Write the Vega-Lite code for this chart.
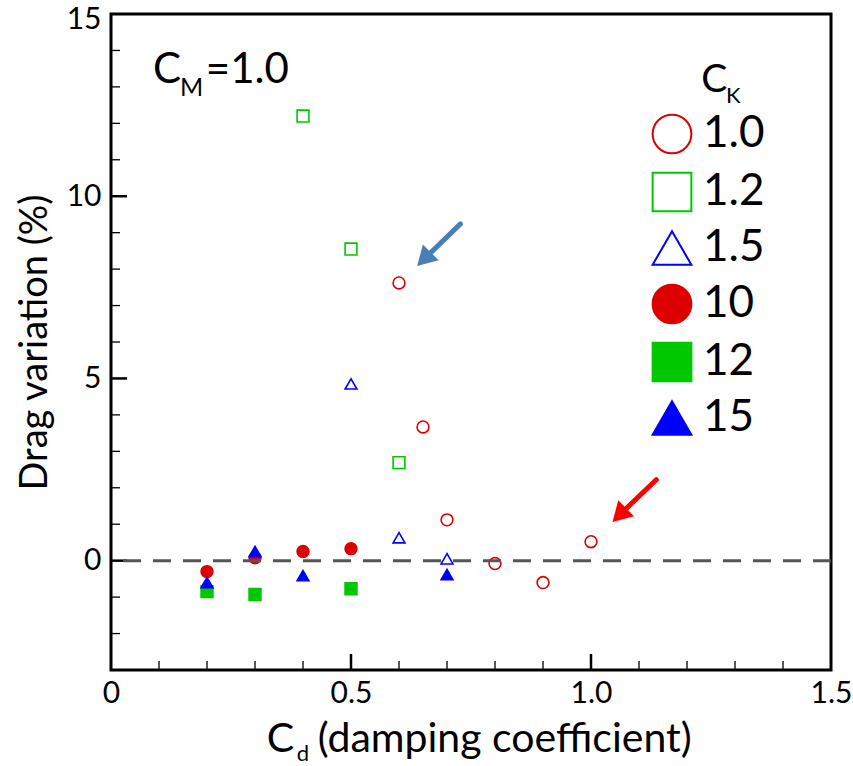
{
  "$schema": "https://vega.github.io/schema/vega-lite/v6.json",
  "width": 720,
  "height": 656,
  "autosize": {"type": "none"},
  "padding": {"left": 111, "top": 14, "right": 22, "bottom": 96},
  "background": "white",
  "config": {
    "font": "Lato",
    "view": {"stroke": "black", "strokeWidth": 3},
    "axis": {"domain": false, "grid": false, "ticks": false, "labelFont": "Lato", "labelColor": "black", "titleFont": "Lato", "titleColor": "black", "titleFontWeight": "normal", "labelOverlap": false, "labelBound": false}
  },
  "datasets": {
    "pts": [
      {"cd": 0.6, "dv": 7.62, "ck": "1.0"},
      {"cd": 0.65, "dv": 3.67, "ck": "1.0"},
      {"cd": 0.7, "dv": 1.12, "ck": "1.0"},
      {"cd": 0.8, "dv": -0.08, "ck": "1.0"},
      {"cd": 0.9, "dv": -0.6, "ck": "1.0"},
      {"cd": 1.0, "dv": 0.52, "ck": "1.0"},
      {"cd": 0.4, "dv": 12.2, "ck": "1.2"},
      {"cd": 0.5, "dv": 8.55, "ck": "1.2"},
      {"cd": 0.6, "dv": 2.69, "ck": "1.2"},
      {"cd": 0.5, "dv": 4.85, "ck": "1.5"},
      {"cd": 0.6, "dv": 0.63, "ck": "1.5"},
      {"cd": 0.7, "dv": 0.05, "ck": "1.5"},
      {"cd": 0.2, "dv": -0.3, "ck": "10"},
      {"cd": 0.3, "dv": 0.08, "ck": "10"},
      {"cd": 0.4, "dv": 0.25, "ck": "10"},
      {"cd": 0.5, "dv": 0.33, "ck": "10"},
      {"cd": 0.2, "dv": -0.85, "ck": "12"},
      {"cd": 0.3, "dv": -0.93, "ck": "12"},
      {"cd": 0.5, "dv": -0.77, "ck": "12"},
      {"cd": 0.2, "dv": -0.6, "ck": "15"},
      {"cd": 0.3, "dv": 0.25, "ck": "15"},
      {"cd": 0.4, "dv": -0.41, "ck": "15"},
      {"cd": 0.7, "dv": -0.38, "ck": "15"}
    ],
    "zero": [{"v": 0}],
    "xmajor": [{"v": 0.5}, {"v": 1.0}],
    "xminor": [{"v": 0.1}, {"v": 0.2}, {"v": 0.3}, {"v": 0.4}, {"v": 0.6}, {"v": 0.7}, {"v": 0.8}, {"v": 0.9}, {"v": 1.1}, {"v": 1.2}, {"v": 1.3}, {"v": 1.4}],
    "ymajor": [{"v": 0}, {"v": 5}, {"v": 10}],
    "yminor": [{"v": -2}, {"v": -1}, {"v": 1}, {"v": 2}, {"v": 3}, {"v": 4}, {"v": 6}, {"v": 7}, {"v": 8}, {"v": 9}, {"v": 11}, {"v": 12}, {"v": 13}, {"v": 14}],
    "arrows": [
      {"id": "blue", "x": 0.728, "y": 9.24, "x2": 0.652, "y2": 8.27},
      {"id": "red", "x": 1.136, "y": 2.22, "x2": 1.059, "y2": 1.25}
    ],
    "notes": [
      {"g": "big", "tx": 0.0874, "ty": 13.11, "t": "C"},
      {"g": "big", "tx": 0.1976, "ty": 13.11, "t": "=1.0"},
      {"g": "bigsub", "tx": 0.1435, "ty": 12.76, "t": "M"},
      {"g": "ck", "tx": 1.2295, "ty": 12.86, "t": "C"},
      {"g": "cksub", "tx": 1.2815, "ty": 12.57, "t": "K"},
      {"g": "xt", "tx": 0.3245, "ty": -5.24, "t": "C"},
      {"g": "xt", "tx": 0.4306, "ty": -5.24, "t": "(damping coefficient)"},
      {"g": "xtsub", "tx": 0.387, "ty": -5.49, "t": "d"}
    ]
  },
  "layer": [
    {
      "data": {"name": "pts"},
      "mark": {"type": "point", "size": 140, "strokeWidth": 1.6, "opacity": 1},
      "encoding": {
        "x": {
          "field": "cd", "type": "quantitative",
          "scale": {"domain": [0, 1.5], "nice": false, "zero": false},
          "axis": {
            "title": null,
            "values": [0, 0.5, 1.0, 1.5],
            "labelExpr": "datum.value == 0 ? '0' : format(datum.value, '.1f')",
            "ticks": false,
            "labelFontSize": 30,
            "labelPadding": 8,
            "labelFlush": false,
            "labelOverlap": false
          }
        },
        "y": {
          "field": "dv", "type": "quantitative",
          "scale": {"domain": [-3, 15], "nice": false, "zero": false},
          "axis": {
            "title": "Drag variation (%)",
            "titleFontSize": 38,
            "titlePadding": 12,
            "values": [0, 5, 10, 15],
            "ticks": false,
            "labelFontSize": 30,
            "labelPadding": 10,
            "labelFlush": true,
            "labelFlushOffset": 10,
            "labelOverlap": false
          }
        },
        "shape": {
          "field": "ck", "type": "nominal",
          "scale": {"domain": ["1.0", "1.2", "1.5", "10", "12", "15"], "range": ["circle", "square", "triangle-up", "circle", "square", "triangle-up"]},
          "legend": {
            "orient": "none", "legendX": 539, "legendY": 98, "title": null, "padding": 0,
            "symbolSize": 1500, "symbolStrokeWidth": 2, "labelFontSize": 44, "labelFont": "Lato",
            "labelOffset": 9, "rowPadding": 10,
            "encode": {
              "symbols": {
                "stroke": {"condition": [{"test": "indexof(['1.0','10'], datum.value) >= 0", "value": "#c00000"}, {"test": "indexof(['1.2','12'], datum.value) >= 0", "value": "#00b050"}], "value": "#0000ff"},
                "fill": {"condition": [{"test": "datum.value == '10'", "value": "#c00000"}, {"test": "datum.value == '12'", "value": "#00b050"}, {"test": "datum.value == '15'", "value": "#0000ff"}], "value": "transparent"},
                "strokeWidth": {"value": 2},
                "opacity": {"value": 1}
              },
              "labels": {
                "fill": {"condition": [{"test": "indexof(['1.0','10'], datum.value) >= 0", "value": "#c00000"}, {"test": "indexof(['1.2','12'], datum.value) >= 0", "value": "#00b050"}], "value": "#0000ff"}
              }
            }
          }
        },
        "stroke": {
          "field": "ck", "type": "nominal", "legend": null,
          "scale": {"domain": ["1.0", "1.2", "1.5", "10", "12", "15"], "range": ["#dd0000", "#00c800", "#0000ff", "#dd0000", "#00c800", "#0000ff"]}
        },
        "fill": {
          "field": "ck", "type": "nominal", "legend": null,
          "scale": {"domain": ["1.0", "1.2", "1.5", "10", "12", "15"], "range": ["transparent", "transparent", "transparent", "#dd0000", "#00c800", "#0000ff"]}
        }
      }
    },
    {
      "data": {"name": "xmajor"},
      "mark": {"type": "tick", "orient": "vertical", "size": 32, "thickness": 2.5, "color": "black", "opacity": 1, "clip": true},
      "encoding": {"x": {"field": "v", "type": "quantitative"}, "y": {"datum": -3, "type": "quantitative"}}
    },
    {
      "data": {"name": "xminor"},
      "mark": {"type": "tick", "orient": "vertical", "size": 18, "thickness": 1.3, "color": "black", "opacity": 1, "clip": true},
      "encoding": {"x": {"field": "v", "type": "quantitative"}, "y": {"datum": -3, "type": "quantitative"}}
    },
    {
      "data": {"name": "ymajor"},
      "mark": {"type": "tick", "orient": "horizontal", "size": 32, "thickness": 2.5, "color": "black", "opacity": 1, "clip": true},
      "encoding": {"y": {"field": "v", "type": "quantitative"}, "x": {"datum": 0, "type": "quantitative"}}
    },
    {
      "data": {"name": "yminor"},
      "mark": {"type": "tick", "orient": "horizontal", "size": 18, "thickness": 1.3, "color": "black", "opacity": 1, "clip": true},
      "encoding": {"y": {"field": "v", "type": "quantitative"}, "x": {"datum": 0, "type": "quantitative"}}
    },
    {
      "data": {"name": "zero"},
      "mark": {"type": "rule", "strokeDash": [18, 12], "color": "#555555", "strokeWidth": 3},
      "encoding": {"y": {"field": "v", "type": "quantitative"}}
    },
    {
      "data": {"name": "arrows"},
      "transform": [{"filter": "datum.id == 'blue'"}],
      "layer": [
        {
          "mark": {"type": "rule", "color": "#4a7ebb", "strokeWidth": 5, "strokeCap": "round"},
          "encoding": {
            "x": {"field": "x", "type": "quantitative"},
            "y": {"field": "y", "type": "quantitative"},
            "x2": {"field": "x2"},
            "y2": {"field": "y2"}
          }
        },
        {
          "mark": {"type": "point", "shape": "triangle-up", "filled": true, "color": "#4a7ebb", "opacity": 1, "size": 500, "angle": 225},
          "encoding": {
            "x": {"field": "x2", "type": "quantitative"},
            "y": {"field": "y2", "type": "quantitative"}
          }
        }
      ]
    },
    {
      "data": {"name": "arrows"},
      "transform": [{"filter": "datum.id == 'red'"}],
      "layer": [
        {
          "mark": {"type": "rule", "color": "#ff0000", "strokeWidth": 5, "strokeCap": "round"},
          "encoding": {
            "x": {"field": "x", "type": "quantitative"},
            "y": {"field": "y", "type": "quantitative"},
            "x2": {"field": "x2"},
            "y2": {"field": "y2"}
          }
        },
        {
          "mark": {"type": "point", "shape": "triangle-up", "filled": true, "color": "#ff0000", "opacity": 1, "size": 500, "angle": 225},
          "encoding": {
            "x": {"field": "x2", "type": "quantitative"},
            "y": {"field": "y2", "type": "quantitative"}
          }
        }
      ]
    },
    {
      "data": {"name": "notes"},
      "transform": [{"filter": "datum.g == 'big'"}],
      "mark": {"type": "text", "align": "left", "baseline": "alphabetic", "fontSize": 42, "font": "Lato", "color": "black"},
      "encoding": {"x": {"field": "tx", "type": "quantitative"}, "y": {"field": "ty", "type": "quantitative"}, "text": {"field": "t"}}
    },
    {
      "data": {"name": "notes"},
      "transform": [{"filter": "datum.g == 'bigsub'"}],
      "mark": {"type": "text", "align": "left", "baseline": "alphabetic", "fontSize": 25, "font": "Lato", "color": "black"},
      "encoding": {"x": {"field": "tx", "type": "quantitative"}, "y": {"field": "ty", "type": "quantitative"}, "text": {"field": "t"}}
    },
    {
      "data": {"name": "notes"},
      "transform": [{"filter": "datum.g == 'ck'"}],
      "mark": {"type": "text", "align": "left", "baseline": "alphabetic", "fontSize": 39, "font": "Lato", "color": "black"},
      "encoding": {"x": {"field": "tx", "type": "quantitative"}, "y": {"field": "ty", "type": "quantitative"}, "text": {"field": "t"}}
    },
    {
      "data": {"name": "notes"},
      "transform": [{"filter": "datum.g == 'cksub'"}],
      "mark": {"type": "text", "align": "left", "baseline": "alphabetic", "fontSize": 22, "font": "Lato", "color": "black"},
      "encoding": {"x": {"field": "tx", "type": "quantitative"}, "y": {"field": "ty", "type": "quantitative"}, "text": {"field": "t"}}
    },
    {
      "data": {"name": "notes"},
      "transform": [{"filter": "datum.g == 'xt'"}],
      "mark": {"type": "text", "align": "left", "baseline": "alphabetic", "fontSize": 41, "font": "Lato", "color": "black"},
      "encoding": {"x": {"field": "tx", "type": "quantitative"}, "y": {"field": "ty", "type": "quantitative"}, "text": {"field": "t"}}
    },
    {
      "data": {"name": "notes"},
      "transform": [{"filter": "datum.g == 'xtsub'"}],
      "mark": {"type": "text", "align": "left", "baseline": "alphabetic", "fontSize": 22, "font": "Lato", "color": "black"},
      "encoding": {"x": {"field": "tx", "type": "quantitative"}, "y": {"field": "ty", "type": "quantitative"}, "text": {"field": "t"}}
    }
  ]
}
